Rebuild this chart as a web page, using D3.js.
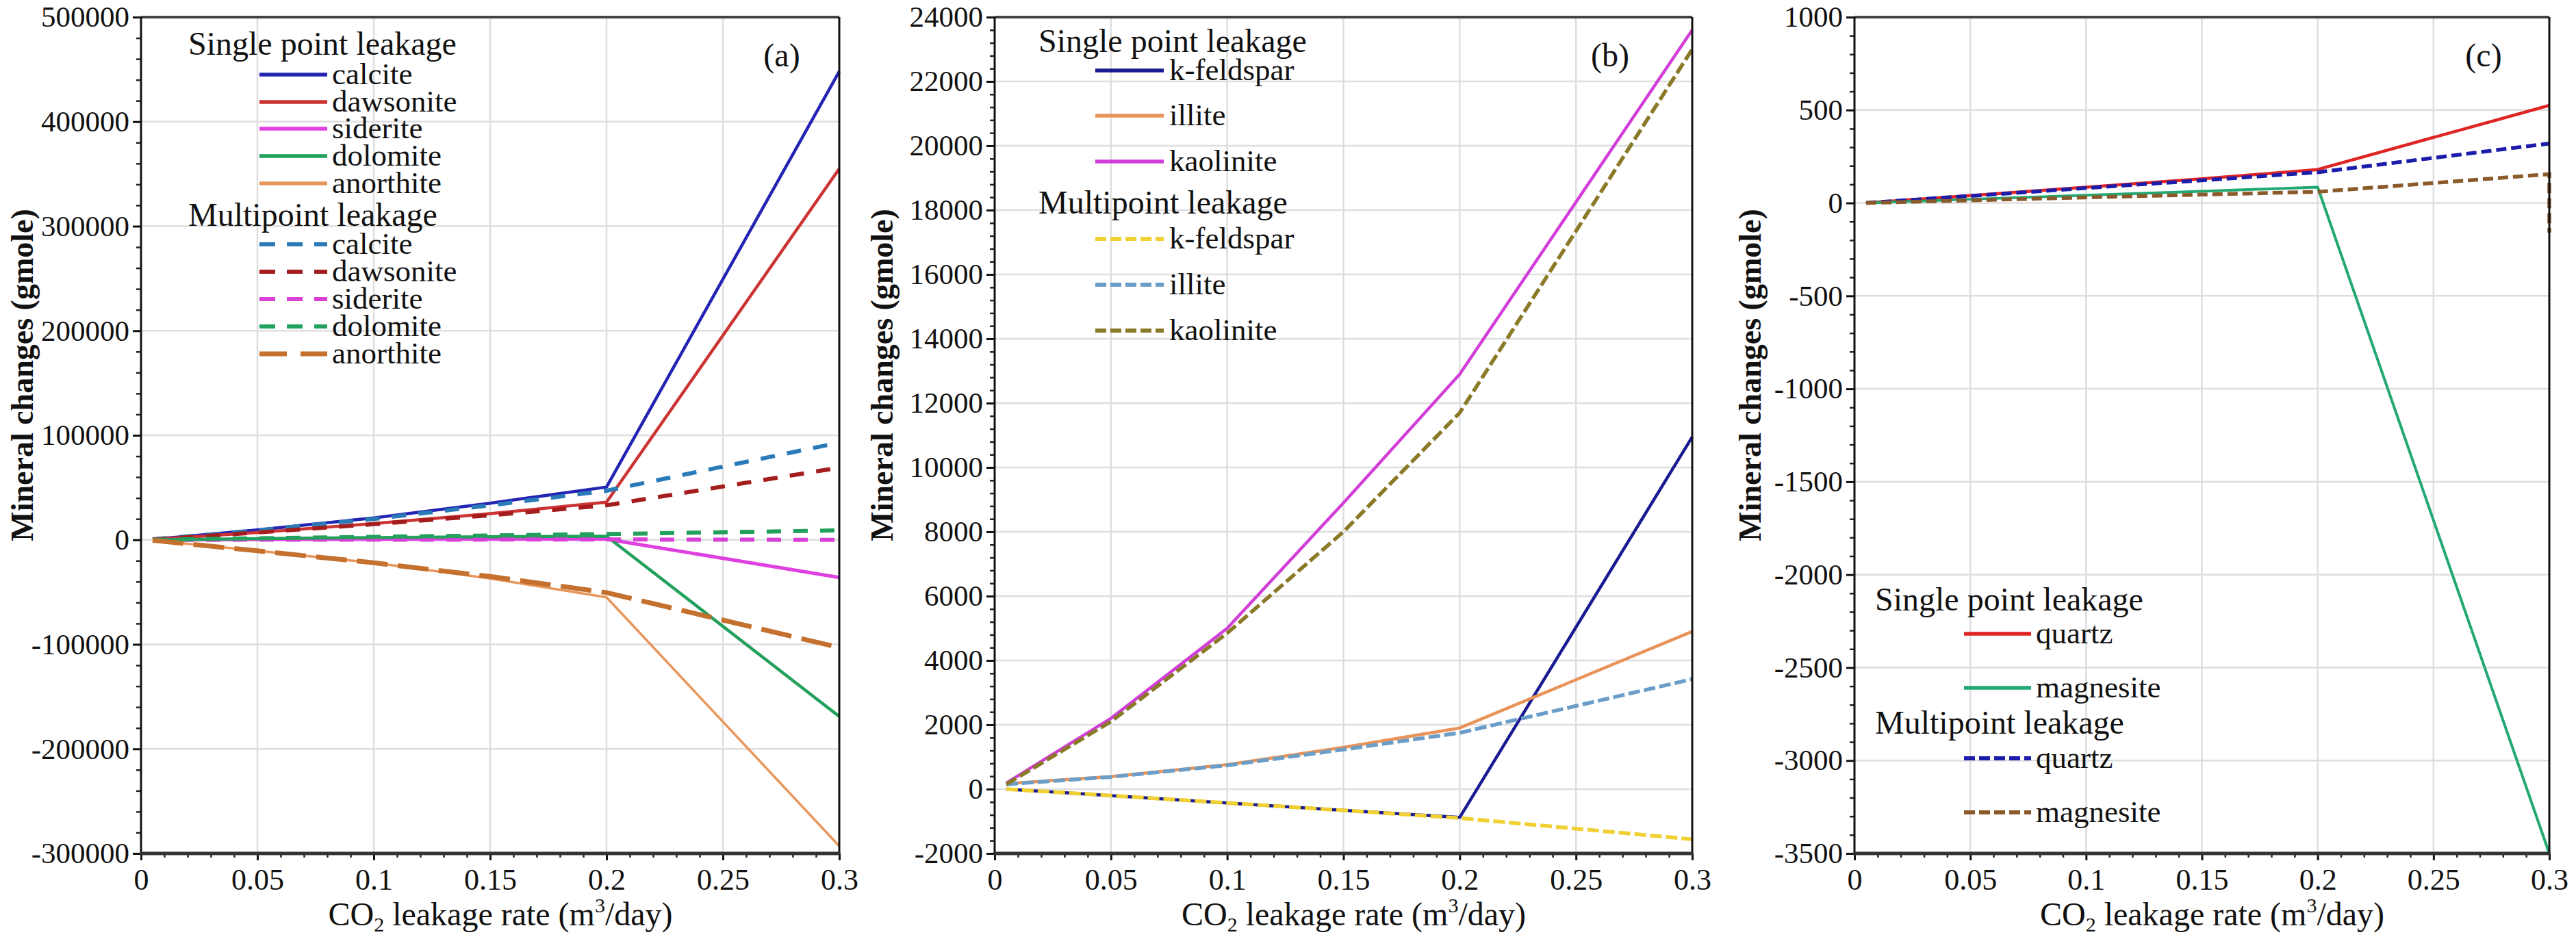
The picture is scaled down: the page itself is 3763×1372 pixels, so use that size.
<!DOCTYPE html>
<html>
<head>
<meta charset="utf-8">
<script src="https://cdn.jsdelivr.net/npm/d3@7"></script>
<style>
  body { margin: 0; background: #fff; }
  text { font-family: "Liberation Serif", "Times New Roman", serif; fill: #111; }
</style>
</head>
<body>
<div id="chart"></div>
<script>
// CO2 leakage rates where the model was sampled
var xRates = [0.005, 0.05, 0.1, 0.15, 0.2, 0.3];
var xTicks = [0, 0.05, 0.1, 0.15, 0.2, 0.25, 0.3];

// (a) carbonates + anorthite
var aNames = ['calcite', 'dawsonite', 'siderite', 'dolomite', 'anorthite'];
var aCalciteSingle   = [500, 9500, 21000, 35000, 50500, 448000];
var aDawsoniteSingle = [300, 7000, 15500, 25000, 36000, 355000];
var aSideriteSingle  = [0, 300, 500, 600, 700, -36000];
var aDolomiteSingle  = [0, 1200, 2200, 3000, 3500, -169000];
var aAnorthiteSingle = [-500, -10500, -22000, -37000, -55000, -293000];
var aCalciteMulti    = [500, 9000, 20000, 33000, 47000, 93000];
var aDawsoniteMulti  = [300, 7000, 15000, 23500, 33000, 69000];
var aSideriteMulti   = [0, 100, 200, 250, 300, 0];
var aDolomiteMulti   = [0, 1500, 2800, 4200, 5500, 9000];
var aAnorthiteMulti  = [-500, -10500, -22000, -35000, -50500, -103000];
var aYTicks = [-300000, -200000, -100000, 0, 100000, 200000, 300000, 400000, 500000];

// (b) silicates
var bNames = ['k-feldspar', 'illite', 'kaolinite'];
var bKfeldsparSingle = [0, -200, -430, -660, -880, 10950];
var bIlliteSingle    = [170, 390, 760, 1300, 1900, 4900];
var bKaoliniteSingle = [190, 2200, 5000, 8900, 12900, 23600];
var bKfeldsparMulti  = [0, -200, -430, -660, -900, -1560];
var bIlliteMulti     = [150, 380, 740, 1230, 1750, 3420];
var bKaoliniteMulti  = [150, 2100, 4850, 8000, 11700, 23000];
var bYTicks = [-2000, 0, 2000, 4000, 6000, 8000, 10000, 12000, 14000, 16000, 18000, 20000, 22000, 24000];

// (c) quartz + magnesite (multipoint magnesite has an extra reading at 0.3)
var cNames = ['quartz', 'magnesite'];
var cQuartzSingle    = [0, 40, 85, 130, 180, 525];
var cMagnesiteSingle = [0, 20, 42, 63, 85, -3500];
var cQuartzMulti     = [0, 38, 80, 122, 165, 320];
var cMagnesiteMulti  = [0, 14, 30, 45, 60, 155, -160];
var cYTicks = [-3500, -3000, -2500, -2000, -1500, -1000, -500, 0, 500, 1000];

var width = 3763, height = 1372;
var plotTop = 25, plotBottom = 1247;

var svg = d3.select('#chart')
    .append('svg')
    .attr('width', width)
    .attr('height', height);

var fmt = function (d) { return String(d).replace('\u2212', '-'); };

var panels = [
    {
        label: '(a)', left: 206, right: 1226, yTicks: aYTicks, minorStep: 20000,
        yTitleX: 32, labelX: 1142,
        single: [
            { name: aNames[0], values: aCalciteSingle, color: '#2424b4', w: 4.5 },
            { name: aNames[1], values: aDawsoniteSingle, color: '#cc3333', w: 4.5 },
            { name: aNames[2], values: aSideriteSingle, color: '#e040e0', w: 5 },
            { name: aNames[3], values: aDolomiteSingle, color: '#22a05c', w: 4.5 },
            { name: aNames[4], values: aAnorthiteSingle, color: '#e8965a', w: 3.5 }
        ],
        multi: [
            { name: aNames[0], values: aCalciteMulti, color: '#2a7ab8', dash: '21,18', w: 6 },
            { name: aNames[1], values: aDawsoniteMulti, color: '#a41c1c', dash: '21,18', w: 6 },
            { name: aNames[2], values: aSideriteMulti, color: '#d840d8', dash: '21,18', w: 6 },
            { name: aNames[3], values: aDolomiteMulti, color: '#22a05c', dash: '21,18', w: 6 },
            { name: aNames[4], values: aAnorthiteMulti, color: '#c4702e', dash: '45,15', w: 7 }
        ],
        legend: {
            x: 275, t1: 80, rows1: [109, 149, 188, 228, 268], t2: 330, rows2: [357, 397, 437, 477, 517],
            x0: 379, x1: 478, lx: 485, dashes: ['23,17', '23,17', '23,17', '23,17', '40,20']
        }
    },
    {
        label: '(b)', left: 1453, right: 2472, yTicks: bYTicks, minorStep: 400,
        yTitleX: 1288, labelX: 2352,
        single: [
            { name: bNames[0], values: bKfeldsparSingle, color: '#1a1a92', w: 4.5 },
            { name: bNames[1], values: bIlliteSingle, color: '#e8935a', w: 4.5 },
            { name: bNames[2], values: bKaoliniteSingle, color: '#d23cd8', w: 4.5 }
        ],
        multi: [
            { name: bNames[0], values: bKfeldsparMulti, color: '#f0d032', dash: '17,6', w: 5.5 },
            { name: bNames[1], values: bIlliteMulti, color: '#6a9ec8', dash: '17,6', w: 5.5 },
            { name: bNames[2], values: bKaoliniteMulti, color: '#8a7a28', dash: '17,6', w: 5.5 }
        ],
        legend: {
            x: 1517, t1: 76, rows1: [103, 169, 236], t2: 312, rows2: [349, 416, 483],
            x0: 1600, x1: 1700, lx: 1708, dashes: ['16,6', '16,6', '16,6']
        }
    },
    {
        label: '(c)', left: 2709, right: 3724, yTicks: cYTicks, minorStep: 100,
        yTitleX: 2556, labelX: 3628,
        single: [
            { name: cNames[0], values: cQuartzSingle, color: '#e02424', w: 4.5 },
            { name: cNames[1], values: cMagnesiteSingle, color: '#22a872', w: 4 }
        ],
        multi: [
            { name: cNames[0], values: cQuartzMulti, color: '#1c1caa', dash: '15,7', w: 5.5 },
            { name: cNames[1], values: cMagnesiteMulti, color: '#8b5a2b', dash: '15,7', w: 5.5 }
        ],
        legend: {
            x: 2739, t1: 892, rows1: [926, 1005], t2: 1072, rows2: [1108, 1187],
            x0: 2869, x1: 2967, lx: 2974, dashes: ['16,6', '16,6']
        }
    }
];

panels.forEach(function (p) {
    var g = svg.append('g');
    var yMin = p.yTicks[0], yMax = p.yTicks[p.yTicks.length - 1];

    var x_scale = d3.scaleLinear().domain([0, 0.3]).range([p.left, p.right]);
    var y_scale = d3.scaleLinear().domain([yMin, yMax]).range([plotBottom, plotTop]);

    // grid
    g.selectAll('.vgrid')
        .data(xTicks.slice(1, -1))
        .enter()
        .append('line')
        .attr('x1', function (d) { return x_scale(d); })
        .attr('x2', function (d) { return x_scale(d); })
        .attr('y1', plotTop)
        .attr('y2', plotBottom)
        .attr('stroke', '#dedede')
        .attr('stroke-width', 2.5);

    g.selectAll('.hgrid')
        .data(p.yTicks.slice(1, -1))
        .enter()
        .append('line')
        .attr('x1', p.left)
        .attr('x2', p.right)
        .attr('y1', function (d) { return y_scale(d); })
        .attr('y2', function (d) { return y_scale(d); })
        .attr('stroke', '#dedede')
        .attr('stroke-width', 2.5);

    var line = d3.line()
        .x(function (d) { return x_scale(d[0]); })
        .y(function (d) { return y_scale(d[1]); });

    var toPts = function (vals) {
        return vals.map(function (v, i) { return [xRates[Math.min(i, xRates.length - 1)], v]; });
    };

    // single point lines first, multipoint dashed on top
    p.single.forEach(function (s) {
        g.append('path')
            .datum(toPts(s.values))
            .attr('d', line)
            .attr('fill', 'none')
            .attr('stroke', s.color)
            .attr('stroke-width', s.w)
            .attr('stroke-linejoin', 'round');
    });
    p.multi.forEach(function (s) {
        g.append('path')
            .datum(toPts(s.values))
            .attr('d', line)
            .attr('fill', 'none')
            .attr('stroke', s.color)
            .attr('stroke-width', s.w)
            .attr('stroke-dasharray', s.dash);
    });

    // minor ticks
    var yMinor = d3.range(yMin, yMax + 1, p.minorStep).filter(function (d) { return p.yTicks.indexOf(d) < 0; });
    g.append('g')
        .attr('transform', 'translate(' + p.left + ',0)')
        .call(d3.axisLeft(y_scale).tickValues(yMinor).tickSize(7).tickFormat(''))
        .call(function (a) { a.select('.domain').remove(); a.selectAll('line').attr('stroke', '#222').attr('stroke-width', 2.5); });

    var xMinor = d3.range(0, 31).map(function (i) { return i / 100; }).filter(function (d, i) { return i % 5 !== 0; });
    g.append('g')
        .attr('transform', 'translate(0,' + plotBottom + ')')
        .call(d3.axisBottom(x_scale).tickValues(xMinor).tickSize(6).tickFormat(''))
        .call(function (a) { a.select('.domain').remove(); a.selectAll('line').attr('stroke', '#222').attr('stroke-width', 2.5); });

    // major axes
    g.append('g')
        .attr('transform', 'translate(' + p.left + ',0)')
        .call(d3.axisLeft(y_scale).tickValues(p.yTicks).tickSize(12).tickPadding(5).tickFormat(fmt))
        .call(function (a) {
            a.select('.domain').remove();
            a.selectAll('line').attr('stroke', '#111').attr('stroke-width', 3);
            a.selectAll('text').attr('font-size', 43).attr('font-family', '"Liberation Serif", serif').attr('fill', '#111');
        });

    g.append('g')
        .attr('transform', 'translate(0,' + plotBottom + ')')
        .call(d3.axisBottom(x_scale).tickValues(xTicks).tickSize(10).tickPadding(12).tickFormat(function (d) { return String(d); }))
        .call(function (a) {
            a.select('.domain').remove();
            a.selectAll('line').attr('stroke', '#111').attr('stroke-width', 3);
            a.selectAll('text').attr('font-size', 44).attr('font-family', '"Liberation Serif", serif').attr('fill', '#111');
        });

    // frame
    g.append('line').attr('x1', p.left).attr('x2', p.right).attr('y1', plotTop).attr('y2', plotTop)
        .attr('stroke', '#444').attr('stroke-width', 4);
    g.append('line').attr('x1', p.right).attr('x2', p.right).attr('y1', plotTop).attr('y2', plotBottom)
        .attr('stroke', '#111').attr('stroke-width', 3);
    g.append('line').attr('x1', p.left).attr('x2', p.left).attr('y1', plotTop).attr('y2', plotBottom)
        .attr('stroke', '#111').attr('stroke-width', 3);
    g.append('line').attr('x1', p.left - 1.5).attr('x2', p.right + 1.5).attr('y1', plotBottom).attr('y2', plotBottom)
        .attr('stroke', '#333').attr('stroke-width', 5);

    // panel label
    g.append('text')
        .attr('x', p.labelX)
        .attr('y', 97)
        .attr('text-anchor', 'middle')
        .attr('font-size', 48)
        .text(p.label);

    // legend
    var L = p.legend;
    g.append('text').attr('x', L.x).attr('y', L.t1).attr('font-size', 48).text('Single point leakage');
    g.append('text').attr('x', L.x).attr('y', L.t2).attr('font-size', 48).text('Multipoint leakage');

    p.single.forEach(function (s, i) {
        g.append('line').attr('x1', L.x0).attr('x2', L.x1)
            .attr('y1', L.rows1[i]).attr('y2', L.rows1[i])
            .attr('stroke', s.color).attr('stroke-width', 5.5);
        g.append('text').attr('x', L.lx).attr('y', L.rows1[i] + 14)
            .attr('font-size', 45).text(s.name);
    });
    p.multi.forEach(function (s, i) {
        g.append('line').attr('x1', L.x0).attr('x2', L.x1)
            .attr('y1', L.rows2[i]).attr('y2', L.rows2[i])
            .attr('stroke', s.color).attr('stroke-width', i === 4 ? 7 : 6)
            .attr('stroke-dasharray', L.dashes[i]);
        g.append('text').attr('x', L.lx).attr('y', L.rows2[i] + 14)
            .attr('font-size', 45).text(s.name);
    });

    // axis titles
    g.append('text')
        .attr('transform', 'translate(' + p.yTitleX + ',548) rotate(-90)')
        .attr('text-anchor', 'middle')
        .attr('dy', '0.35em')
        .attr('font-size', 46)
        .attr('font-weight', 'bold')
        .text('Mineral changes (gmole)');

    var xt = g.append('text')
        .attr('x', (p.left + p.right) / 2 + 15)
        .attr('y', 1352)
        .attr('text-anchor', 'middle')
        .attr('font-size', 48);
    xt.append('tspan').text('CO');
    xt.append('tspan').attr('font-size', 30).attr('dy', 9).text('2');
    xt.append('tspan').attr('dy', -9).text(' leakage rate (m');
    xt.append('tspan').attr('font-size', 30).attr('dy', -19).text('3');
    xt.append('tspan').attr('dy', 19).text('/day)');
});
</script>
</body>
</html>
